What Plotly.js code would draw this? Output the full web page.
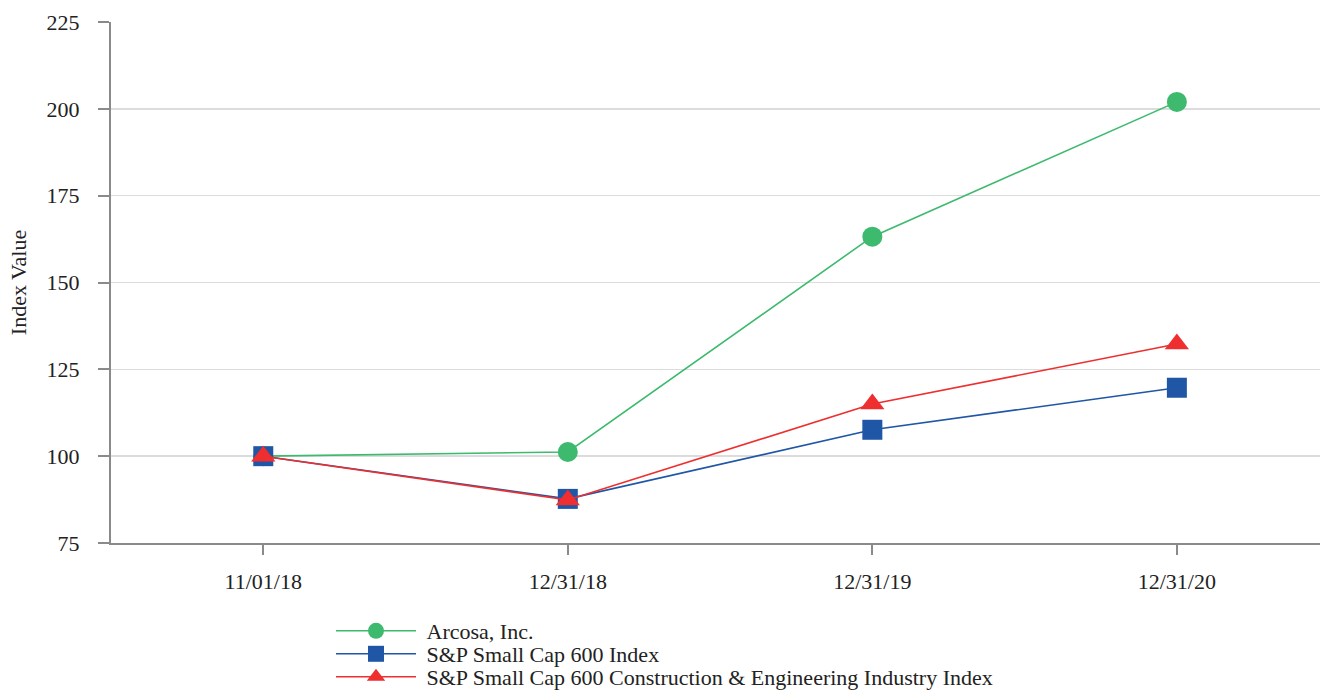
<!DOCTYPE html>
<html>
<head>
<meta charset="utf-8">
<script src="https://cdn.plot.ly/plotly-3.0.1.min.js"></script>
<style>html,body{margin:0;padding:0;background:#fff;}#chart{width:1320px;height:690px;}</style>
</head>
<body>
<div id="chart"></div>
<script>
const dates = ["11/01/18", "12/31/18", "12/31/19", "12/31/20"];
const arcosa = [100, 101.2, 163.2, 202.0];
const sp600 = [100, 87.7, 107.6, 119.7];
const spConstruction = [100, 87.4, 115.0, 132.3];
const seriesNames = ["Arcosa, Inc.", "S&P Small Cap 600 Index", "S&P Small Cap 600 Construction & Engineering Industry Index"];
const yTicks = [75, 100, 125, 150, 175, 200, 225];

const colors = ["#3dba6e", "#1f56a6", "#ee2e2f"];
const symbols = ["circle", "square", "triangle-up"];
const values = [arcosa, sp600, spConstruction];
const legendIds = ["legend", "legend2", "legend3"];

const traces = values.map((v, i) => ({
  x: dates, y: v, name: "\u00a0" + seriesNames[i], type: "scatter", mode: "lines+markers",
  legend: legendIds[i],
  line: {color: colors[i], width: 1.6},
  marker: {color: colors[i], symbol: symbols[i], size: i === 2 ? 21 : 20}
}));

const plotTop = 22, plotBottom = 543, plotH = plotBottom - plotTop;
const legendRows = [631, 654, 677];
function legendCfg(py) {
  return {x: (331 - 111) / 1209, xanchor: "left", y: (plotBottom - py) / plotH, yanchor: "middle",
    orientation: "v", font: {size: 22, color: "#222"}, itemwidth: 80, bgcolor: "rgba(0,0,0,0)",
    borderwidth: 0};
}

const layout = {
  width: 1320, height: 690,
  margin: {l: 111, r: 0, t: plotTop, b: 690 - plotBottom, autoexpand: false},
  paper_bgcolor: "#fff", plot_bgcolor: "#fff",
  font: {family: "Liberation Serif, Times New Roman, serif", size: 22, color: "#222"},
  showlegend: true,
  legend: legendCfg(legendRows[0]),
  legend2: legendCfg(legendRows[1]),
  legend3: legendCfg(legendRows[2]),
  xaxis: {type: "category", range: [-0.5, 3.47], showgrid: false, zeroline: false,
    showline: true, linecolor: "#8a8a8a", linewidth: 2,
    ticks: "outside", ticklen: 10, tickwidth: 2, tickcolor: "#8a8a8a",
    ticklabelstandoff: 8, tickfont: {size: 22, color: "#222"}},
  yaxis: {range: [75, 225], tickvals: yTicks, showgrid: true, gridcolor: "#dcdcdc", gridwidth: 1.5,
    zeroline: false, showline: true, linecolor: "#8a8a8a", linewidth: 2,
    ticks: "outside", ticklen: 11, tickwidth: 2, tickcolor: "#8a8a8a",
    ticklabelstandoff: 14, tickfont: {size: 22, color: "#222"}, automargin: true,
    title: {text: "Index Value", font: {size: 22, color: "#222"}, standoff: 14}}
};

Plotly.newPlot("chart", traces, layout, {displayModeBar: false, staticPlot: true});
</script>
</body>
</html>
